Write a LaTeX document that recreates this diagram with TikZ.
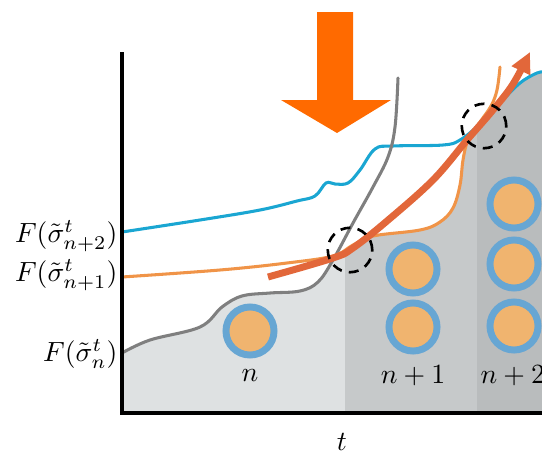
\documentclass[tikz,border=0pt]{standalone}
\usetikzlibrary{arrows.meta}
\definecolor{lightreg}{HTML}{DEE1E2}
\definecolor{midreg}{HTML}{C6C9CA}
\definecolor{darkreg}{HTML}{B9BCBD}
\definecolor{ringblue}{HTML}{67A6D3}
\definecolor{coreorange}{HTML}{F0B46F}
\definecolor{curveblue}{HTML}{1AA6D2}
\definecolor{curveorange}{HTML}{F09448}
\definecolor{curvered}{HTML}{E2673A}
\definecolor{curvegray}{HTML}{7F7F7F}
\definecolor{bigarrow}{HTML}{FF6A00}
\tikzset{
  particle/.style={circle, draw=ringblue, fill=coreorange, line width=2.5pt, minimum size=17.3pt, inner sep=0pt},
  dashcirc/.style={circle, draw=black, dash pattern=on 3.6pt off 2.6pt, line width=0.95pt, minimum size=16pt, inner sep=0pt},
  thincurve/.style={line width=1.1pt, line cap=round},
  axisline/.style={line width=1.1pt},
  ylab/.style={anchor=east, inner sep=0pt},
  plab/.style={inner sep=0pt}
}
\def\regionpath{plot[smooth, tension=0.6] coordinates {(122,353) (150,340) (200,327) (222,307) (242,296) (270,293) (300,291) (318,282) (333,259) (350,249) (373,237) (420,231) (440,222) (453,208) (460,185) (463,160) (468,140) (477,132) (493,113) (510,93) (524,80) (542,72)} -- (542,413) -- (122,413) -- cycle}
\begin{document}
\begin{tikzpicture}[x=0.36pt, y=-0.36pt]
\useasboundingbox (0,0) rectangle (542,454);
\clip (0,0) rectangle (542,454);
% regions
\fill[lightreg] \regionpath;
\begin{scope}
  \clip (345,0) rectangle (477,454);
  \fill[midreg] \regionpath;
\end{scope}
\begin{scope}
  \clip (477,0) rectangle (542,454);
  \fill[darkreg] \regionpath;
\end{scope}
% particles
\node[particle] (pn) at (250,331) {};
\node[particle] (pa1) at (413,269) {};
\node[particle] (pa2) at (413,327) {};
\node[particle] (pb1) at (514,204) {};
\node[particle] (pb2) at (514,264) {};
\node[particle] (pb3) at (514,326) {};
\node[plab] (ln) at (250,376) {$n$};
\node[plab] (la) at (413,376) {$n+1$};
\node[plab, anchor=west] (lb) at (480,376) {$n+2$};
% curves
\draw[thincurve, curveblue] plot[smooth, tension=0.6] coordinates {(122,232) (200,220) (260,210) (297,201) (315,196) (326,183) (335,184) (348,183) (360,170) (375,149) (393,146) (443,145) (460,140) (480,124) (500,103) (520,83) (537,73) (545,72)};
\draw[thincurve, curvegray] plot[smooth, tension=0.6] coordinates {(122,353) (150,340) (200,327) (222,307) (242,296) (270,293) (300,291) (318,282) (333,260) (353,223) (373,187) (388,157) (395,127) (398,78)};
\draw[thincurve, curveorange] plot[smooth, tension=0.6] coordinates {(122,277) (220,270) (287,263) (333,256) (353,245) (373,236) (420,230) (440,222) (453,208) (460,185) (463,160) (468,140) (480,122) (491,106) (497,90) (500,67)};
\draw[curvered, line width=2.5pt, -{Triangle[length=7.5pt, width=7pt]}] plot[smooth, tension=0.6] coordinates {(268,277) (333,258) (353,248) (387,221) (433,180) (467,140) (493,110) (513,84) (530,52)};
% dashed circles
\node[dashcirc] (c1) at (350,250) {};
\node[dashcirc] (c2) at (484,126) {};
% axes
\coordinate (otop) at (122,52);
\coordinate (orig) at (122,413);
\coordinate (oright) at (545,413);
\draw[axisline] (otop) -- (orig) -- (oright);
\node (tlab) at (342,442) {$t$};
\node[ylab] (f2) at (118,236) {$F(\tilde\sigma^t_{n+2})$};
\node[ylab] (f1) at (118,275) {$F(\tilde\sigma^t_{n+1})$};
\node[ylab] (f0) at (118,354) {$F(\tilde\sigma^t_{n})$};
% big arrow
\fill[bigarrow] (317,12) -- (353,12) -- (353,100) -- (391,100) -- (337,133) -- (281,100) -- (317,100) -- cycle;
\end{tikzpicture}
\end{document}
